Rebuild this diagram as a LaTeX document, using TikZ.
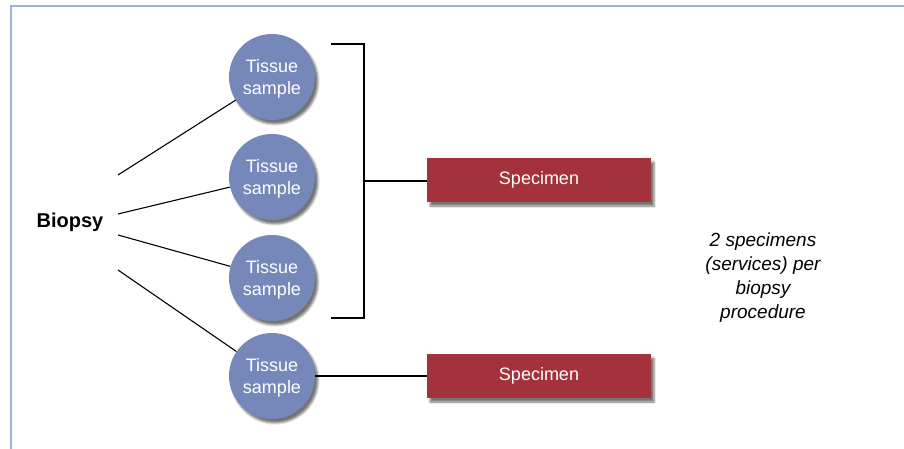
\documentclass[tikz,border=0pt]{standalone}
\usepackage{fontspec}
\setmainfont{Liberation Sans}
\usetikzlibrary{positioning,shadows.blur}
\definecolor{tissueblue}{RGB}{118,135,186}
\definecolor{specred}{RGB}{163,50,60}
\definecolor{frameblue}{RGB}{160,175,222}
\tikzset{tissue/.style={circle,fill=tissueblue,minimum size=86pt,inner sep=0pt,
        text=white,font=\fontsize{18}{22}\selectfont,
        blur shadow={shadow xshift=3pt,shadow yshift=-4pt,shadow opacity=55}}}
\tikzset{specbox/.style={rectangle,fill=specred,minimum width=224pt,minimum height=44pt,
        text=white,font=\fontsize{18}{22}\selectfont,
        blur shadow={shadow xshift=3pt,shadow yshift=-4pt,shadow opacity=55}}}
\tikzset{link/.style={draw,line width=1.1pt}}

\begin{document}
\begin{tikzpicture}[x=1pt,y=-1pt]
    \useasboundingbox (0,0) rectangle (904,449);
    % open frame
    \draw[frameblue,line width=1.5pt] (904,6) -- (11,6) -- (11,449);
    \node[font=\fontsize{20}{24}\selectfont\bfseries] (bio) at (70,222) {Biopsy};
    \foreach \i/\y in {1/77,2/177,3/278,4/376}
        \node[tissue] (t\i) at (272,\y)
            {\raisebox{0pt}[\dimexpr\height+5pt][\depth]{\begin{tabular}{@{}c@{}}Tissue\\sample\end{tabular}}};
    \node[specbox] (s1) at (539,180) {Specimen};
    \node[specbox] (s2) at (539,376) {Specimen};
    \node[align=center,font=\fontsize{19}{24}\selectfont\itshape] (note) at (763,278)
        {2 specimens\\(services) per\\biopsy\\procedure};
    % line ends near the biopsy label
    \coordinate (b1) at (118,175);
    \coordinate (b2) at (118,214);
    \coordinate (b3) at (118,235);
    \coordinate (b4) at (118,270);
    \foreach \i in {1,...,4}
        \draw[link] (b\i) -- (t\i);
    % bracket
    \coordinate (brtop) at (331,44);
    \coordinate (brtopr) at (364,44);
    \coordinate (brbotr) at (364,318);
    \coordinate (brbot) at (331,318);
    \coordinate (brmid) at (364,181);
    \draw[link] (brtop) -- (brtopr) -- (brbotr) -- (brbot);
    \draw[link] (brmid) -- (brmid -| s1.west);
    \draw[link] (t4) -- (s2);
\end{tikzpicture}
\end{document}
